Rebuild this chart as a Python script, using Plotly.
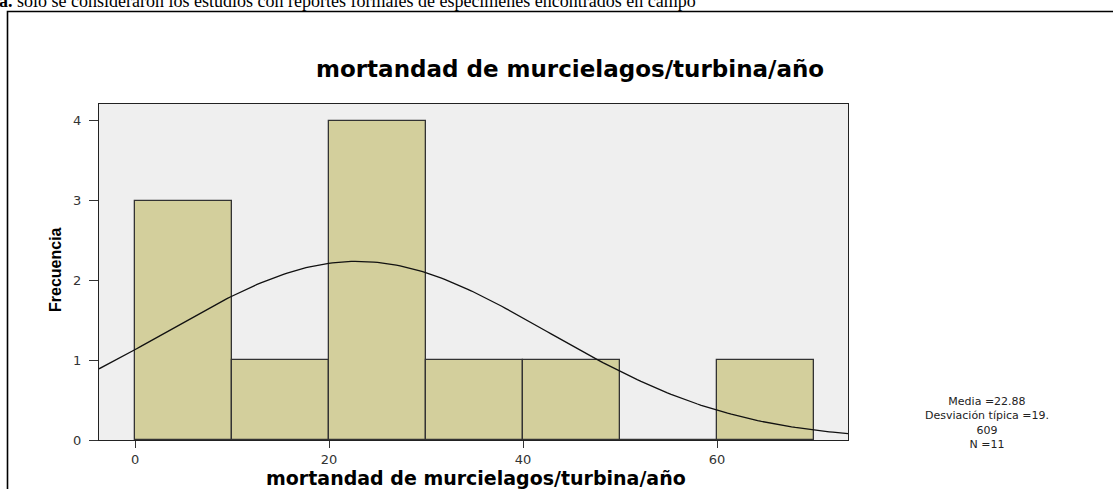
import numpy as np
import plotly.graph_objects as go

# Histogram data
bin_starts = [0, 10, 20, 30, 40, 50, 60]
counts = [3, 1, 4, 1, 1, 0, 1]
bin_width = 10

# Summary statistics shown on chart
media = 22.88
desv = 19.609
n_obs = 11

x_ticks = [0, 20, 40, 60]
y_ticks = [0, 1, 2, 3, 4]

title_text = "mortandad de murcielagos/turbina/año"
y_title = "Frecuencia"
note_text = "<b>a.</b> solo se consideraron los estudios con reportes formales de especímenes encontrados en campo"
stats_lines = ["Media =22.88", "Desviación típica =19.", "609", "N =11"]

x_range = [-3.72, 73.5]
y_range = [0, 4.21]

# Normal curve fitted from the stats (as the software draws it)
xc = np.linspace(x_range[0], x_range[1], 200)
yc = n_obs * bin_width / (desv * np.sqrt(2 * np.pi)) * np.exp(-0.5 * ((xc - media) / desv) ** 2)

fig = go.Figure()
fig.add_trace(go.Bar(
    x=[b + bin_width / 2 for b in bin_starts], y=counts, width=bin_width,
    marker=dict(color="#D3CF9C", line=dict(color="#333333", width=1.3)),
    hoverinfo="skip", showlegend=False,
))
fig.add_trace(go.Scatter(
    x=xc, y=yc, mode="lines", line=dict(color="#111111", width=1.3),
    hoverinfo="skip", showlegend=False,
))

W, H = 1113, 489
L, R, T, B = 99, 265, 104, 49
pw, ph = W - L - R, H - T - B

def px(xp):
    return (xp - L) / pw

def py(yp):
    return (H - B - yp) / ph

def ann(text, x, y, size, family, color="#000", angle=0, xanchor="center"):
    return dict(text=text, x=px(x), y=py(y), xref="paper", yref="paper",
                xanchor=xanchor, yanchor="middle", showarrow=False, textangle=angle,
                font=dict(family=family, size=size, color=color))

annotations = [
    ann("<b>" + title_text + "</b>", 570, 69, 23, "DejaVu Sans, Arial"),
    ann("<b>" + title_text + "</b>", 476, 478, 19, "DejaVu Sans, Arial"),
    ann("<b>" + y_title + "</b>", 55, 270, 16,
        "Liberation Sans Narrow, Liberation Sans, Arial", angle=-90),
    ann(note_text, -3, 1, 18, "Liberation Serif, Times New Roman", xanchor="left"),
    ann("<br>".join(stats_lines), 987, 423, 11, "DejaVu Sans, Arial", color="#222"),
]

fig.update_layout(
    width=W, height=H,
    margin=dict(l=L, r=R, t=T, b=B, pad=0),
    paper_bgcolor="white", plot_bgcolor="#EFEFEF",
    bargap=0,
    annotations=annotations,
    shapes=[dict(type="rect", xref="paper", yref="paper",
                 x0=px(7.5), x1=px(1130), y0=py(11.5), y1=py(520),
                 line=dict(color="#000", width=1.6), layer="below")],
    xaxis=dict(range=x_range, tickvals=x_ticks, ticks="outside", ticklen=7, tickcolor="#333",
               showgrid=False, zeroline=False, showline=True, linecolor="#222", linewidth=1.2,
               mirror=True, tickfont=dict(family="DejaVu Sans, Arial", size=13, color="#333")),
    yaxis=dict(range=y_range, tickvals=y_ticks, ticks="outside", ticklen=9, tickcolor="#333",
               ticklabelstandoff=5,
               showgrid=False, zeroline=False, showline=True, linecolor="#222", linewidth=1.2,
               mirror=True, tickfont=dict(family="DejaVu Sans, Arial", size=13, color="#333")),
)

fig.write_html("out.html", config={"displayModeBar": False},
               post_script="document.body.style.margin='0';")
